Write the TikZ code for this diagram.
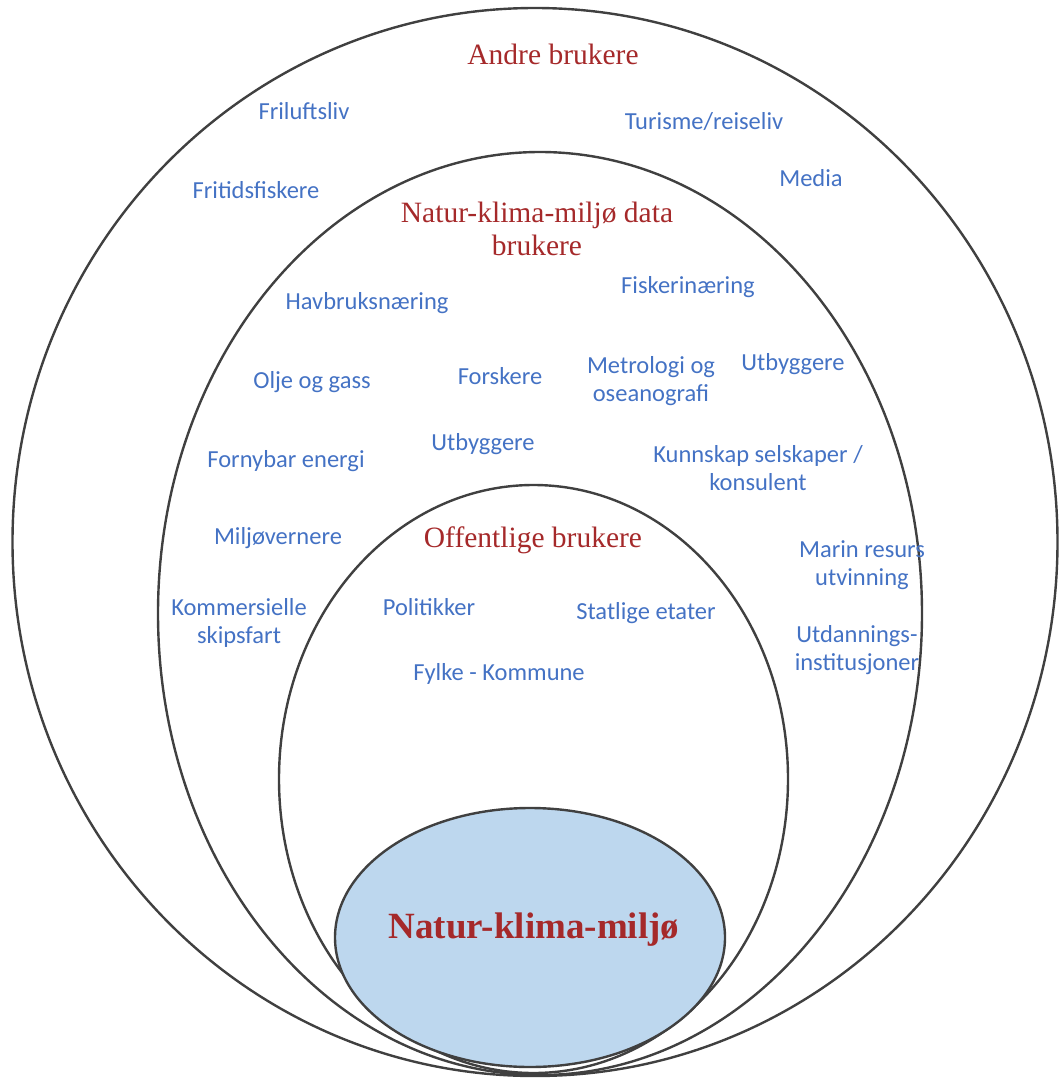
\documentclass[tikz,border=0pt]{standalone}
\usepackage{fontspec}
\setmainfont{Liberation Serif}
\newfontfamily\labelfont{Carlito}
\definecolor{ringline}{HTML}{404040}
\definecolor{corefill}{HTML}{BDD7EE}
\definecolor{headred}{HTML}{A5292A}
\definecolor{userblue}{HTML}{4472C4}
\begin{document}
\begin{tikzpicture}[x=1pt,y=-1pt,
  ring/.style={draw=ringline,line width=2.4pt},
  heading/.style={text=headred,font=\fontsize{29.5}{33}\selectfont,align=center,inner sep=0pt},
  user/.style={text=userblue,font=\labelfont\fontsize{24.5}{28.5}\selectfont,align=center,inner sep=0pt}]
\useasboundingbox (0,0) rectangle (1059,1079);
% nested user circles
\draw[ring] (535,542) ellipse [x radius=522.5,y radius=534];
\draw[ring] (540,613.5) ellipse [x radius=382,y radius=461.5];
\draw[ring] (533.5,779) ellipse [x radius=254.5,y radius=294];
\draw[ring,fill=corefill] (530,937.5) ellipse [x radius=195,y radius=129.5];
% headings
\node[heading] (andre) at (553,54) {Andre brukere};
\node[heading] (data) at (537,229) {Natur-klima-miljø data\\brukere};
\node[heading] (offentlige) at (533,540) {Offentlige brukere};
\node[heading,font=\bfseries\fontsize{37}{40}\selectfont] (kjerne) at (534,930) {Natur-klima-miljø};
% other users
\node[user] (friluftsliv) at (304,111) {Friluftsliv};
\node[user] (turisme) at (704,122) {Turisme/reiseliv};
\node[user] (fritid) at (256,190) {Fritidsfiskere};
\node[user] (media) at (811,178) {Media};
% nature/climate/environment data users
\node[user] (havbruk) at (367,303) {Havbruksnæring};
\node[user] (fiskeri) at (688,287) {Fiskerinæring};
\node[user] (olje) at (312,382) {Olje og gass};
\node[user] (forskere) at (500,376) {Forskere};
\node[user] (metrologi) at (651,381) {Metrologi og\\oseanografi};
\node[user] (utbyggerea) at (793,364) {Utbyggere};
\node[user] (fornybar) at (286,461) {Fornybar energi};
\node[user] (utbyggereb) at (483,444) {Utbyggere};
\node[user] (kunnskap) at (758,468) {Kunnskap selskaper /\\konsulent};
\node[user] (miljo) at (278,538) {Miljøvernere};
\node[user] (marin) at (862,565) {Marin resurs\\utvinning};
\node[user] (skipsfart) at (239,623) {Kommersielle\\skipsfart};
\node[user] (utdanning) at (857,650) {Utdannings-\\institusjoner};
% public users
\node[user] (politikk) at (429,607) {Politikker};
\node[user] (statlige) at (646,613) {Statlige etater};
\node[user] (fylke) at (499,674) {Fylke - Kommune};
\end{tikzpicture}
\end{document}
